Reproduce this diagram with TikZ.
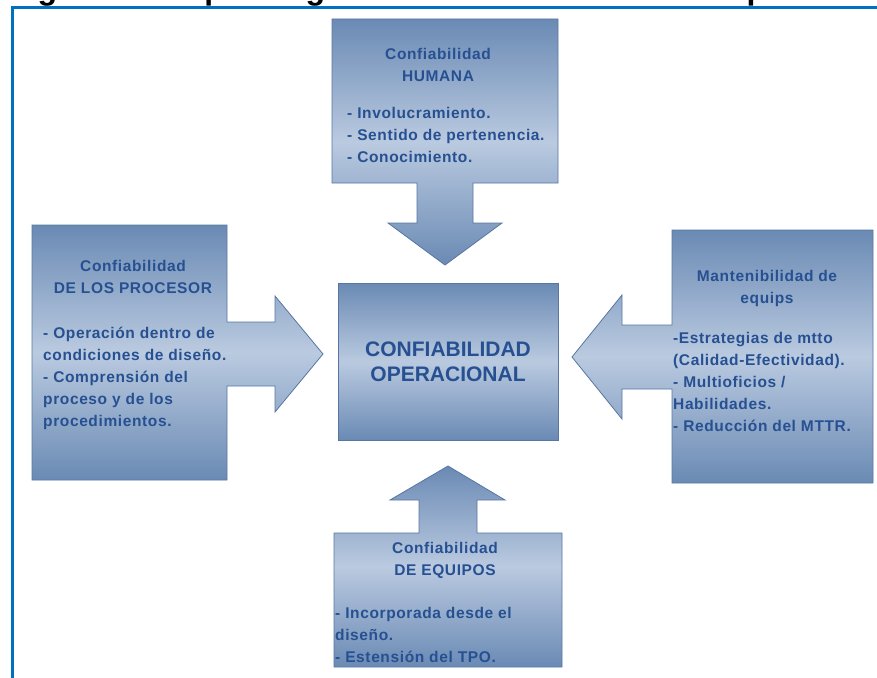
\documentclass[tikz,border=0pt]{standalone}
\usepackage{fontspec}
\setmainfont{Liberation Sans}
\newfontfamily\boxfont[LetterSpace=4]{Liberation Sans}
\definecolor{frameblue}{RGB}{0,112,192}
\definecolor{shadedark}{RGB}{106,138,180}
\definecolor{shadelight}{RGB}{186,202,224}
\definecolor{edgeblue}{RGB}{88,118,162}
\definecolor{textblue}{RGB}{38,80,145}
\tikzset{
  callout/.style={draw=edgeblue, line width=0.8pt, line join=miter,
    top color=shadedark, bottom color=shadedark, middle color=shadelight},
  head/.style={inner sep=0pt, anchor=north, align=center, text=textblue,
    font=\boxfont\bfseries\fontsize{15.5}{22}\selectfont},
  items/.style={inner sep=0pt, anchor=north west, align=left, text=textblue,
    font=\boxfont\bfseries\fontsize{15.5}{22}\selectfont},
  core/.style={inner sep=0pt, anchor=north, align=center, text=textblue,
    font=\bfseries\fontsize{21}{25}\selectfont}
}
\begin{document}
\begin{tikzpicture}[x=1pt,y=-1pt]
\useasboundingbox (0,0) rectangle (877,677);
\clip (0,0) rectangle (877,677);

% caption line running above the frame
\node[anchor=base west, inner sep=0pt, font=\bfseries\fontsize{32}{36}\selectfont]
  (caption) at (9,0) {Figura 3. Esquema general de la Confiabilidad Operacional};

% frame
\draw[frameblue, line width=2.6pt] (12.5,680) -- (12.5,7.8) -- (880,7.8);

% central box
\path[callout] (338,283) rectangle (558,440);
\node[core] (co) at (448,342) {CONFIABILIDAD\\OPERACIONAL};

% top callout, arrow pointing down
\path[callout] (332,19) -- (558,19) -- (558,183) -- (473,183) -- (473,223)
  -- (502,223) -- (445,265) -- (388,223) -- (417,223) -- (417,183)
  -- (332,183) -- cycle;
\node[head] (humana) at (438,48) {Confiabilidad\\HUMANA};
\node[items] (humanaitems) at (347,107)
  {- Involucramiento.\\- Sentido de pertenencia.\\- Conocimiento.};

% left callout, arrow pointing right
\path[callout] (32,225) -- (227,225) -- (227,322) -- (275,322) -- (275,296)
  -- (323,354) -- (275,412) -- (275,386) -- (227,386) -- (227,480)
  -- (32,480) -- cycle;
\node[head] (procesos) at (133,260) {Confiabilidad\\DE LOS PROCESOR};
\node[items] (procesositems) at (43,327)
  {- Operación dentro de\\condiciones de diseño.\\- Comprensión del\\proceso y de los\\procedimientos.};

% right callout, arrow pointing left
\path[callout] (672,230) -- (873,230) -- (873,483) -- (672,483) -- (672,389)
  -- (622,389) -- (622,419) -- (572,357) -- (622,295) -- (622,325)
  -- (672,325) -- cycle;
\node[head] (mant) at (767,270) {Mantenibilidad de\\equips};
\node[items] (mantitems) at (673,332)
  {-Estrategias de mtto\\(Calidad-Efectividad).\\- Multioficios /\\Habilidades.\\- Reducción del MTTR.};

% bottom callout, arrow pointing up
\path[callout] (334,533) -- (419,533) -- (419,500) -- (390,500) -- (448,466)
  -- (505,500) -- (477,500) -- (477,533) -- (562,533) -- (562,667)
  -- (334,667) -- cycle;
\node[head] (equipos) at (445,542) {Confiabilidad\\DE EQUIPOS};
\node[items] (equiposItems) at (335,607)
  {- Incorporada desde el\\diseño.\\- Estensión del TPO.};
\end{tikzpicture}
\end{document}
